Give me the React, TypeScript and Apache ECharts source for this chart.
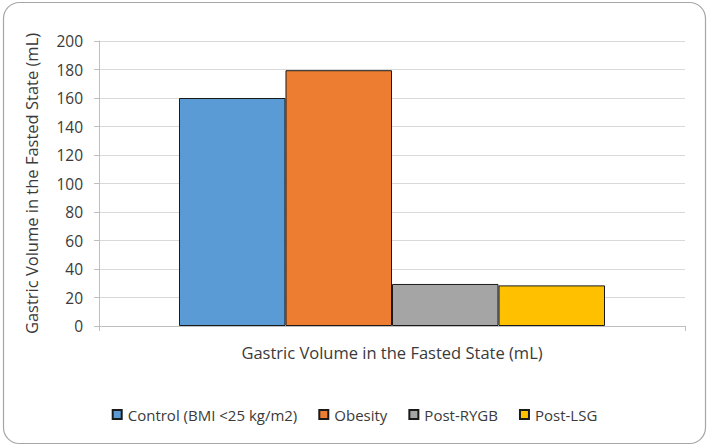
import React, { useEffect, useRef } from "react";
import * as echarts from "echarts";

const categories = ["Gastric Volume in the Fasted State (mL)"];
const seriesNames = ["Control (BMI <25 kg/m2)", "Obesity", "Post-RYGB", "Post-LSG"];
const seriesValues = [[160], [179.5], [29.5], [28.5]];
const seriesColors = ["#5B9BD5", "#ED7D31", "#A5A5A5", "#FFC000"];
const yTicks = { min: 0, max: 200, interval: 20 };
const yAxisTitle = "Gastric Volume in the Fasted State (mL)";

const FONT = "'Open Sans', 'Liberation Sans', sans-serif";
const TEXT = "#3a3a3a";

export default function App() {
  const ref = useRef<HTMLDivElement>(null);

  useEffect(() => {
    document.body.style.margin = "0";
    if (!ref.current) return;
    const chart = echarts.init(ref.current, null, { renderer: "svg" });
    chart.setOption({
      animation: false,
      backgroundColor: "#ffffff",
      textStyle: { fontFamily: FONT, color: TEXT },
      graphic: [
        {
          type: "rect",
          shape: { x: 3.5, y: 2.5, width: 702, height: 441, r: 16 },
          style: { fill: "none", stroke: "#a6a6a6", lineWidth: 1.2 },
          silent: true,
        },
      ],
      grid: { left: 99, right: 24, top: 41, bottom: 120, containLabel: false },
      legend: {
        bottom: 19,
        left: "center",
        icon: "rect",
        itemWidth: 9,
        itemHeight: 9,
        itemGap: 21,
        textStyle: { fontFamily: FONT, fontSize: 15, color: TEXT, padding: [0, 0, 0, 1] },
        data: seriesNames,
      },
      xAxis: {
        type: "category",
        data: categories,
        axisLine: { show: true, lineStyle: { color: "#bfbfbf", width: 1 } },
        axisTick: { show: true, length: 5, lineStyle: { color: "#bfbfbf" } },
        axisLabel: { fontFamily: FONT, fontSize: 16.5, color: TEXT, margin: 18 },
      },
      yAxis: {
        type: "value",
        min: yTicks.min,
        max: yTicks.max,
        interval: yTicks.interval,
        name: yAxisTitle,
        nameLocation: "middle",
        nameGap: 59,
        nameTextStyle: { fontFamily: FONT, fontSize: 16.5, color: TEXT },
        axisLine: { show: true, lineStyle: { color: "#bfbfbf", width: 1 } },
        axisTick: { show: true, length: 5, lineStyle: { color: "#bfbfbf" } },
        axisLabel: { fontFamily: FONT, fontSize: 15.5, color: TEXT, margin: 16 },
        splitLine: { show: true, lineStyle: { color: "#d9d9d9", width: 1 } },
      },
      series: seriesNames.map((name, i) => ({
        type: "bar",
        name,
        data: seriesValues[i],
        barGap: "0%",
        barCategoryGap: "27.3%",
        itemStyle: { color: seriesColors[i], borderColor: "#1a1a1a", borderWidth: 1 },
      })),
    });
    return () => chart.dispose();
  }, []);

  return <div ref={ref} style={{ position: "fixed", left: 0, top: 0, width: 709, height: 446 }} />;
}
